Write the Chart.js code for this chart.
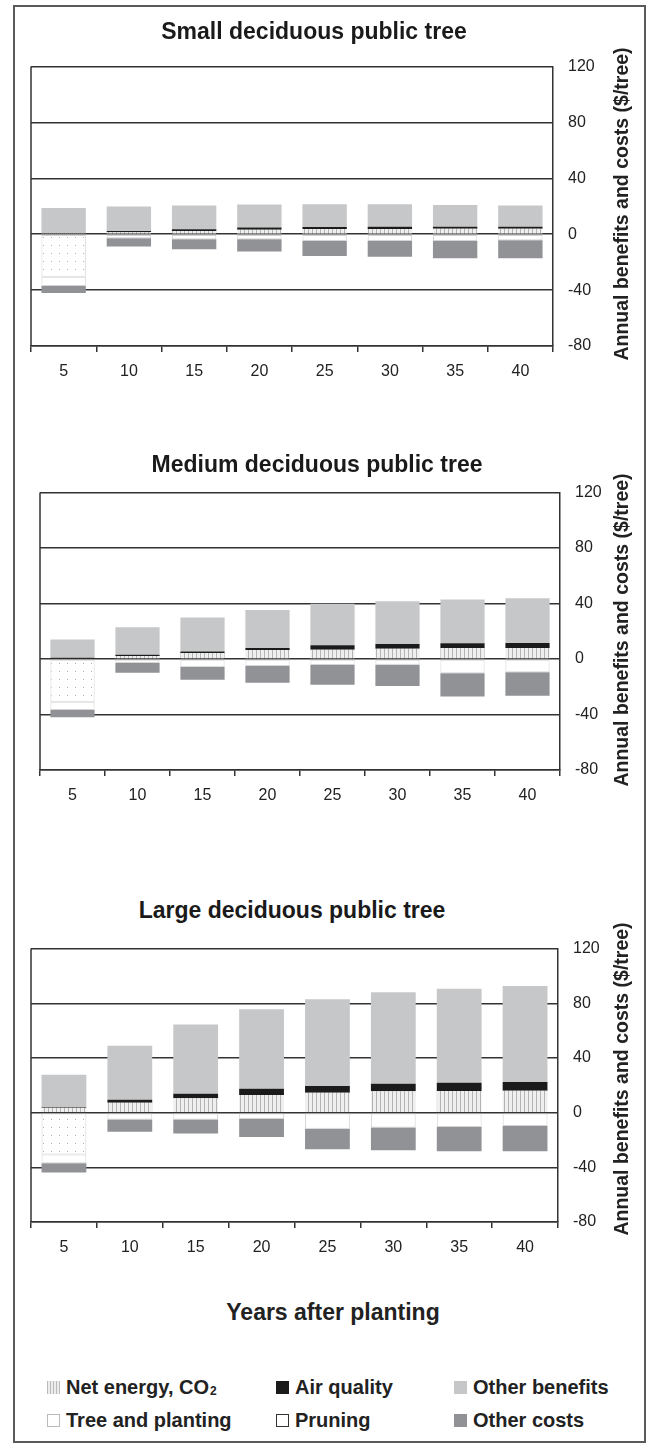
<!DOCTYPE html>
<html>
<head>
<meta charset="utf-8">
<script src="https://cdn.jsdelivr.net/npm/chart.js@4.4.0/dist/chart.umd.min.js"></script>
<style>
body { margin: 0; background: #fff; font-family: Arial, 'Liberation Sans', sans-serif; }
#page { position: relative; width: 647px; height: 1443px; overflow: hidden; }
#frame { position: absolute; left: 13px; top: 5px; width: 629px; height: 1434px; border: 2px solid #5a5a5a; }
canvas { position: absolute; left: 0; }
.ctitle { position: absolute; transform: translate(-50%, -50%); font-weight: bold; font-size: 23px;
  color: #1a1a1a; white-space: nowrap; }
.ytitle { position: absolute; font-weight: bold; font-size: 19.5px; color: #222; white-space: nowrap;
  transform: translate(-50%, -50%) rotate(-90deg); }
#xtitle { position: absolute; left: 333px; top: 1312px; transform: translate(-50%, -50%);
  font-weight: bold; font-size: 23px; color: #222; white-space: nowrap; }
.item { position: absolute; height: 24px; display: flex; align-items: center;
  font-weight: bold; font-size: 20px; color: #222; white-space: nowrap; }
.sw { display: inline-block; width: 13px; height: 13px; margin-right: 6px; box-sizing: border-box; }
.sw.ne { background: repeating-linear-gradient(90deg, #b9b9b9 0 1px, #ececec 1px 3px); }
.sw.tp { background: #fff; border: 1px solid #bbb; }
.sw.aq { background: #1b1b1b; }
.sw.pr { background: #fff; border: 1.5px solid #333; }
.sw.ob { background: #c6c7c9; }
.sw.oc { background: #919296; }
sub { font-size: 12px; position: relative; top: 4px; vertical-align: baseline; margin-left: 1px; }
</style>
</head>
<body>
<div id="page">
  <div id="frame"></div>
  <canvas id="small"></canvas>
  <canvas id="medium"></canvas>
  <canvas id="large"></canvas>
  <div class="ctitle" style="left:314px; top:31px;">Small deciduous public tree</div>
  <div class="ctitle" style="left:317px; top:464px;">Medium deciduous public tree</div>
  <div class="ctitle" style="left:292px; top:910px;">Large deciduous public tree</div>
  <div class="ytitle" style="left:621px; top:204px;">Annual benefits and costs ($/tree)</div>
  <div class="ytitle" style="left:621px; top:630px;">Annual benefits and costs ($/tree)</div>
  <div class="ytitle" style="left:621px; top:1079px;">Annual benefits and costs ($/tree)</div>
  <div id="xtitle">Years after planting</div>
  <div class="item" style="left:47px; top:1375px;"><span class="sw ne"></span>Net energy, CO<sub>2</sub></div>
  <div class="item" style="left:47px; top:1408px;"><span class="sw tp"></span>Tree and planting</div>
  <div class="item" style="left:276px; top:1375px;"><span class="sw aq"></span>Air quality</div>
  <div class="item" style="left:276px; top:1408px;"><span class="sw pr"></span>Pruning</div>
  <div class="item" style="left:454px; top:1375px;"><span class="sw ob"></span>Other benefits</div>
  <div class="item" style="left:454px; top:1408px;"><span class="sw oc"></span>Other costs</div>
</div>
<script>
// years after planting and the value axis
const years = ['5', '10', '15', '20', '25', '30', '35', '40'];
const yTicks = [-80, -40, 0, 40, 80, 120];

// small tree ($/tree, each stack segment)
const smallNetEnergy = [0.4, 1.4, 2.4, 3.3, 3.8, 3.8, 3.9, 3.9];
const smallAirQuality = [0.3, 1.0, 1.2, 1.5, 1.4, 1.5, 1.5, 1.5];
const smallOtherBenefits = [18.0, 17.4, 16.9, 16.4, 16.3, 16.2, 15.6, 15.1];
const smallTreePlanting = [-30.5, null, null, null, null, null, null, null];
const smallPruning = [-6.5, -2.9, -3.6, -3.6, -4.8, -4.8, -4.8, -4.3];
const smallOtherCosts = [-5.0, -5.9, -7.1, -8.8, -10.7, -11.4, -12.3, -12.8];

// medium tree
const mediumNetEnergy = [0.5, 2.2, 4.3, 6.5, 6.7, 7.5, 7.9, 7.9];
const mediumAirQuality = [0.4, 0.9, 1.2, 1.4, 3.2, 3.3, 3.4, 3.6];
const mediumOtherBenefits = [13.1, 19.8, 24.4, 27.5, 29.9, 30.9, 31.6, 32.4];
const mediumTreePlanting = [-30.8, null, null, null, null, null, null, null];
const mediumPruning = [-6.0, -2.9, -5.5, -5.0, -4.3, -4.1, -10.3, -9.6];
const mediumOtherCosts = [-5.2, -7.0, -9.4, -12.1, -14.2, -15.4, -16.7, -16.8];

// large tree
const largeNetEnergy = [3.5, 7.3, 10.5, 12.9, 14.6, 15.6, 15.8, 16.0];
const largeAirQuality = [0.7, 2.2, 3.4, 4.6, 4.9, 5.6, 6.1, 6.4];
const largeOtherBenefits = [23.6, 39.5, 50.5, 58.1, 63.4, 66.8, 68.8, 70.3];
const largeTreePlanting = [-30.6, null, null, null, null, null, null, null];
const largePruning = [-6.4, -5.1, -5.1, -4.6, -11.7, -10.9, -10.5, -9.7];
const largeOtherCosts = [-6.8, -8.8, -10.2, -13.2, -15.1, -16.6, -17.7, -18.5];

const FONT = "Arial, 'Liberation Sans', sans-serif";

function stripes() {
    const c = document.createElement('canvas');
    c.width = 4; c.height = 4;
    const g = c.getContext('2d');
    g.fillStyle = '#efefef'; g.fillRect(0, 0, 4, 4);
    g.fillStyle = '#b4b4b4'; g.fillRect(0, 0, 1, 4);
    return g.createPattern(c, 'repeat');
}

function dots() {
    const c = document.createElement('canvas');
    c.width = 8; c.height = 8;
    const g = c.getContext('2d');
    g.fillStyle = '#ffffff'; g.fillRect(0, 0, 8, 8);
    g.fillStyle = '#b0b0b0'; g.fillRect(3, 3, 1, 1);
    return g.createPattern(c, 'repeat');
}

// left side of the plot frame
const leftEdge = {
    id: 'leftEdge',
    beforeDatasetsDraw(chart) {
        const { ctx, chartArea } = chart;
        ctx.save();
        ctx.strokeStyle = '#333';
        ctx.lineWidth = 1.5;
        ctx.beginPath();
        ctx.moveTo(chartArea.left, chartArea.top);
        ctx.lineTo(chartArea.left, chartArea.bottom);
        ctx.stroke();
        ctx.restore();
    }
};

function drawChart(id, box, ne, aq, ob, tp, pr, oc) {
    // chart.js leaves ~24px above the plot for the top y label
    const W = 647, above = 24, padTop = 4, xh = 40;
    const top = box.top - above;
    const canvas = document.getElementById(id);
    canvas.width = W;
    canvas.height = box.bottom - top + xh;
    canvas.style.top = top + 'px';

    new Chart(canvas.getContext('2d'), {
        type: 'bar',
        data: {
            labels: years,
            datasets: [
                { label: 'Net energy, CO2', data: ne, backgroundColor: stripes() },
                { label: 'Air quality', data: aq, backgroundColor: '#1b1b1b' },
                { label: 'Other benefits', data: ob, backgroundColor: '#c6c7c9' },
                { label: 'Tree and planting', data: tp, backgroundColor: dots(), borderColor: '#d4d4d4', borderWidth: 1, borderSkipped: false },
                { label: 'Pruning', data: pr, backgroundColor: '#ffffff', borderColor: '#d4d4d4', borderWidth: 1, borderSkipped: false },
                { label: 'Other costs', data: oc, backgroundColor: '#919296' }
            ]
        },
        options: {
            responsive: false,
            animation: false,
            layout: { padding: { left: box.left, right: 0, top: padTop, bottom: 0 } },
            datasets: { bar: { barPercentage: 0.68, categoryPercentage: 1 } },
            plugins: {
                legend: { display: false },
                tooltip: { enabled: false },
                title: { display: false }
            },
            scales: {
                x: {
                    stacked: true,
                    grid: { drawOnChartArea: false, drawTicks: true, tickLength: 6, color: '#333', lineWidth: 1.5, offset: true },
                    border: { display: true, color: '#333', width: 1.5 },
                    ticks: { color: '#222', padding: 10, font: { family: FONT, size: 16 } },
                    afterFit: s => { s.height = xh; }
                },
                y: {
                    stacked: true,
                    position: 'right',
                    min: yTicks[0],
                    max: yTicks[yTicks.length - 1],
                    grid: { color: '#333', lineWidth: 1.5, drawTicks: false },
                    border: { display: true, color: '#333', width: 1.5 },
                    ticks: { stepSize: yTicks[1] - yTicks[0], color: '#222', padding: 15, font: { family: FONT, size: 16 } },
                    afterFit: s => { s.width = W - box.right; }
                }
            }
        },
        plugins: [leftEdge]
    });
}

drawChart('small', { left: 31, right: 553, top: 66, bottom: 346 },
    smallNetEnergy, smallAirQuality, smallOtherBenefits, smallTreePlanting, smallPruning, smallOtherCosts);

drawChart('medium', { left: 40, right: 560, top: 492, bottom: 770 },
    mediumNetEnergy, mediumAirQuality, mediumOtherBenefits, mediumTreePlanting, mediumPruning, mediumOtherCosts);

drawChart('large', { left: 31, right: 558, top: 948, bottom: 1222 },
    largeNetEnergy, largeAirQuality, largeOtherBenefits, largeTreePlanting, largePruning, largeOtherCosts);
</script>
</body>
</html>
